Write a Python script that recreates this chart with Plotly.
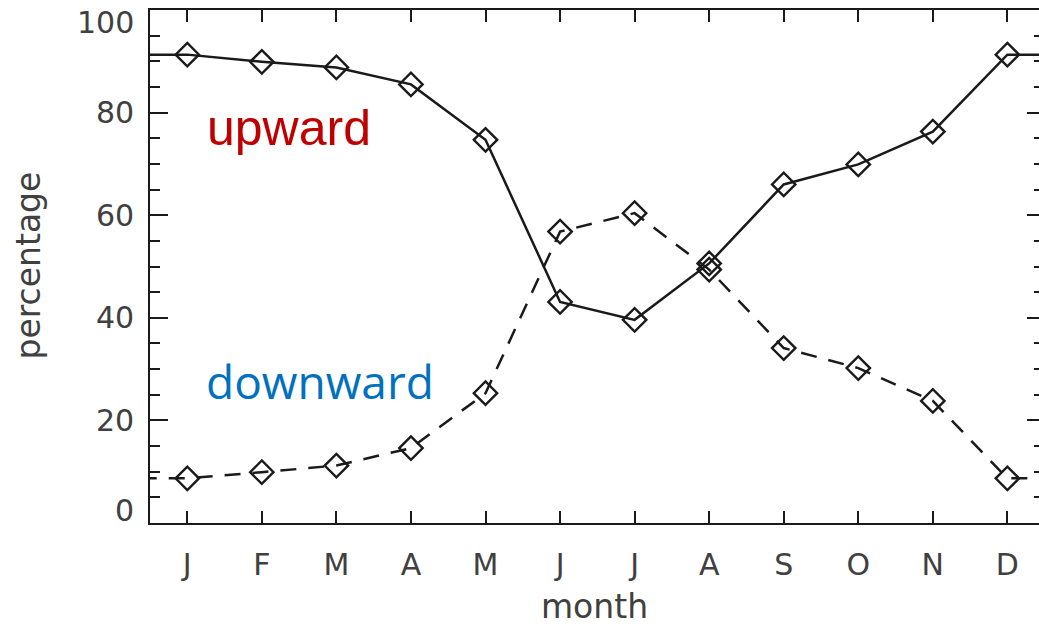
import plotly.graph_objects as go

# Monthly share (%) of upward and downward cases
months = ["J", "F", "M", "A", "M", "J", "J", "A", "S", "O", "N", "D"]
upward = [91.3, 89.9, 88.8, 85.5, 74.7, 43.1, 39.6, 50.6, 66.0, 69.9, 76.3, 91.3]
downward = [8.7, 9.9, 11.2, 14.6, 25.3, 56.8, 60.4, 49.4, 34.1, 30.2, 23.8, 8.7]
y_ticks = [0, 20, 40, 60, 80, 100]

month_pos = list(range(1, len(months) + 1))
# wrap the annual cycle so the curves continue to the frame edges
wrap_x = [0] + month_pos + [len(months) + 1]


def wrapped(vals):
    return [vals[-1]] + vals + [vals[0]]


INK = "#1a1a1a"
LABEL = "#404040"
AXIS_FONT = dict(family="DejaVu Sans", size=30, color=LABEL)
TITLE_FONT = dict(family="DejaVu Sans", size=33, color=LABEL)

fig = go.Figure()

for vals, dash in [(upward, "solid"), (downward, "16px,12px")]:
    fig.add_trace(go.Scatter(
        x=wrap_x, y=wrapped(vals), mode="lines",
        line=dict(color=INK, width=2.5, dash=dash),
        hoverinfo="skip", showlegend=False,
    ))
    fig.add_trace(go.Scatter(
        x=month_pos, y=vals, mode="markers",
        marker=dict(symbol="diamond-open", size=18, color=INK,
                    line=dict(width=2.4, color=INK)),
        showlegend=False,
    ))

# right-hand tick marks (no frame line on that side)
fig.add_trace(go.Scatter(x=[None], y=[None], yaxis="y2", showlegend=False))

fig.update_layout(
    width=1039, height=627,
    margin=dict(l=150, r=0, t=10, b=104),
    paper_bgcolor="white", plot_bgcolor="white",
    xaxis=dict(
        range=[0.5, 12.424], tickvals=month_pos, ticktext=months,
        ticks="inside", ticklen=12, tickwidth=2, tickcolor=INK,
        showline=True, linecolor=INK, linewidth=2.2, mirror="ticks",
        showgrid=False, zeroline=False, tickfont=AXIS_FONT,
        ticklabelstandoff=14,
        title=dict(text="month", font=TITLE_FONT, standoff=14),
    ),
    yaxis=dict(
        range=[0, 100], tickvals=y_ticks, showticklabels=False,
        ticks="inside", ticklen=18, tickwidth=2, tickcolor=INK,
        minor=dict(dtick=5, ticks="inside", ticklen=10, tickwidth=2,
                   tickcolor=INK, showgrid=False),
        showline=True, linecolor=INK, linewidth=2.2,
        showgrid=False, zeroline=False,
    ),
    yaxis2=dict(
        overlaying="y", side="right", range=[0, 100], tickvals=y_ticks,
        showticklabels=False, ticks="inside", ticklen=12, tickwidth=2,
        tickcolor=INK,
        minor=dict(dtick=5, ticks="inside", ticklen=5, tickwidth=2,
                   tickcolor=INK, showgrid=False),
        showline=False, showgrid=False, zeroline=False,
    ),
)

annotations = []
for v in y_ticks:
    shift = -12 if v == y_ticks[-1] else (13 if v == y_ticks[0] else 0)
    annotations.append(dict(
        text=str(v), x=0, xref="paper", y=v, yref="y",
        xanchor="right", yanchor="middle", xshift=-14, yshift=shift,
        showarrow=False, font=AXIS_FONT,
    ))

annotations.append(dict(
    text="percentage", textangle=-90, x=0, xref="paper", y=0.5, yref="paper",
    xanchor="center", yanchor="middle", xshift=-122, yshift=1,
    showarrow=False, font=TITLE_FONT,
))

annotations.append(dict(
    text="upward", x=1.24, xref="x", y=77, yref="y",
    xanchor="left", yanchor="middle", showarrow=False,
    font=dict(family="Liberation Sans", size=50, color="#C00000"),
))
annotations.append(dict(
    text="downward", x=1.23, xref="x", y=27.6, yref="y",
    xanchor="left", yanchor="middle", showarrow=False,
    font=dict(family="Open Sans", size=46, color="#0070C0"),
))

fig.update_layout(annotations=annotations)

fig.write_html("out.html")
